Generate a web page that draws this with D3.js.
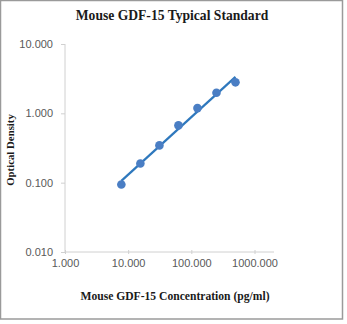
<!DOCTYPE html>
<html>
<head>
<meta charset="utf-8">
<script src="https://d3js.org/d3.v7.min.js"></script>
<style>
  html, body { margin: 0; padding: 0; background: #fff; }
  svg { display: block; }
</style>
</head>
<body>
<svg id="chart" width="347" height="324"></svg>
<script>
// Standard curve: concentration (pg/ml) vs optical density
const concentrations = [7.8, 15.6, 31.25, 62.5, 125, 250, 500];
const opticalDensity = [0.094, 0.189, 0.345, 0.67, 1.19, 1.98, 2.80];
const xTickValues = [1, 10, 100, 1000];
const yTickValues = [0.01, 0.1, 1, 10];

const svg = d3.select("#chart");

// chart frame
svg.append("rect")
  .attr("x", 0.5).attr("y", 0.5)
  .attr("width", 342).attr("height", 318.5)
  .attr("fill", "#fff")
  .attr("stroke", "#9a9a9a").attr("stroke-width", 1.5);

const x = d3.scaleLog().domain([1, 1000]).range([65, 254.5]);
const y = d3.scaleLog().domain([0.01, 10]).range([252, 44]);

const axisColor = "#d0d0d0";
const tickTextColor = "#595959";
const tickFont = "'Liberation Sans', Arial, sans-serif";

// y axis
const yAxis = svg.append("g")
  .attr("transform", "translate(65,0)")
  .call(d3.axisLeft(y).tickValues(yTickValues).tickSize(4).tickPadding(8)
    .tickFormat(d3.format(".3f")));
yAxis.select(".domain").attr("stroke", axisColor).attr("d", `M0,${y(10)}V${y(0.01)}`);
yAxis.selectAll(".tick line").attr("stroke", axisColor);
yAxis.selectAll(".tick text")
  .attr("fill", tickTextColor)
  .attr("font-family", tickFont)
  .attr("font-size", 11);

// x axis
const xAxis = svg.append("g")
  .attr("transform", "translate(0,252)")
  .call(d3.axisBottom(x).tickValues(xTickValues).tickSize(4).tickPadding(3)
    .tickFormat(d3.format(".3f")));
xAxis.select(".domain").attr("stroke", axisColor).attr("d", `M${x(1)},0H274`);
xAxis.selectAll(".tick line").attr("stroke", axisColor).attr("y1", -2).attr("y2", 2);
xAxis.selectAll(".tick text")
  .attr("fill", tickTextColor)
  .attr("font-family", tickFont)
  .attr("font-size", 11);

// power trend line fitted in log-log space
const lx = concentrations.map(Math.log10);
const ly = opticalDensity.map(Math.log10);
const mx = d3.mean(lx), my = d3.mean(ly);
const slope = d3.sum(lx.map((v, i) => (v - mx) * (ly[i] - my))) /
              d3.sum(lx.map(v => (v - mx) * (v - mx)));
const intercept = my - slope * mx;
const fit = c => Math.pow(10, intercept + slope * Math.log10(c));
const xmin = d3.min(concentrations), xmax = d3.max(concentrations);
svg.append("line")
  .attr("x1", x(xmin)).attr("y1", y(fit(xmin)))
  .attr("x2", x(xmax)).attr("y2", y(fit(xmax)))
  .attr("stroke", "#2e78bd").attr("stroke-width", 2.2);

// data points
svg.selectAll("circle.pt")
  .data(concentrations)
  .join("circle")
  .attr("class", "pt")
  .attr("cx", d => x(d))
  .attr("cy", (d, i) => y(opticalDensity[i]))
  .attr("r", 4.3)
  .attr("fill", "#4a7ec4");

// title
svg.append("text")
  .attr("x", 172).attr("y", 20)
  .attr("text-anchor", "middle")
  .attr("font-family", "'Liberation Serif', 'Times New Roman', serif")
  .attr("font-weight", "bold").attr("font-size", 13.6)
  .attr("fill", "#1a1a1a")
  .text("Mouse GDF-15 Typical Standard");

// x axis title
svg.append("text")
  .attr("x", 175).attr("y", 300)
  .attr("text-anchor", "middle")
  .attr("font-family", "'Liberation Serif', 'Times New Roman', serif")
  .attr("font-weight", "bold").attr("font-size", 11.6)
  .attr("fill", "#1a1a1a")
  .text("Mouse GDF-15 Concentration (pg/ml)");

// y axis title
svg.append("text")
  .attr("transform", "translate(14,150) rotate(-90)")
  .attr("text-anchor", "middle")
  .attr("font-family", "'Liberation Serif', 'Times New Roman', serif")
  .attr("font-weight", "bold").attr("font-size", 10.8)
  .attr("fill", "#1a1a1a")
  .text("Optical Density");
</script>
</body>
</html>
